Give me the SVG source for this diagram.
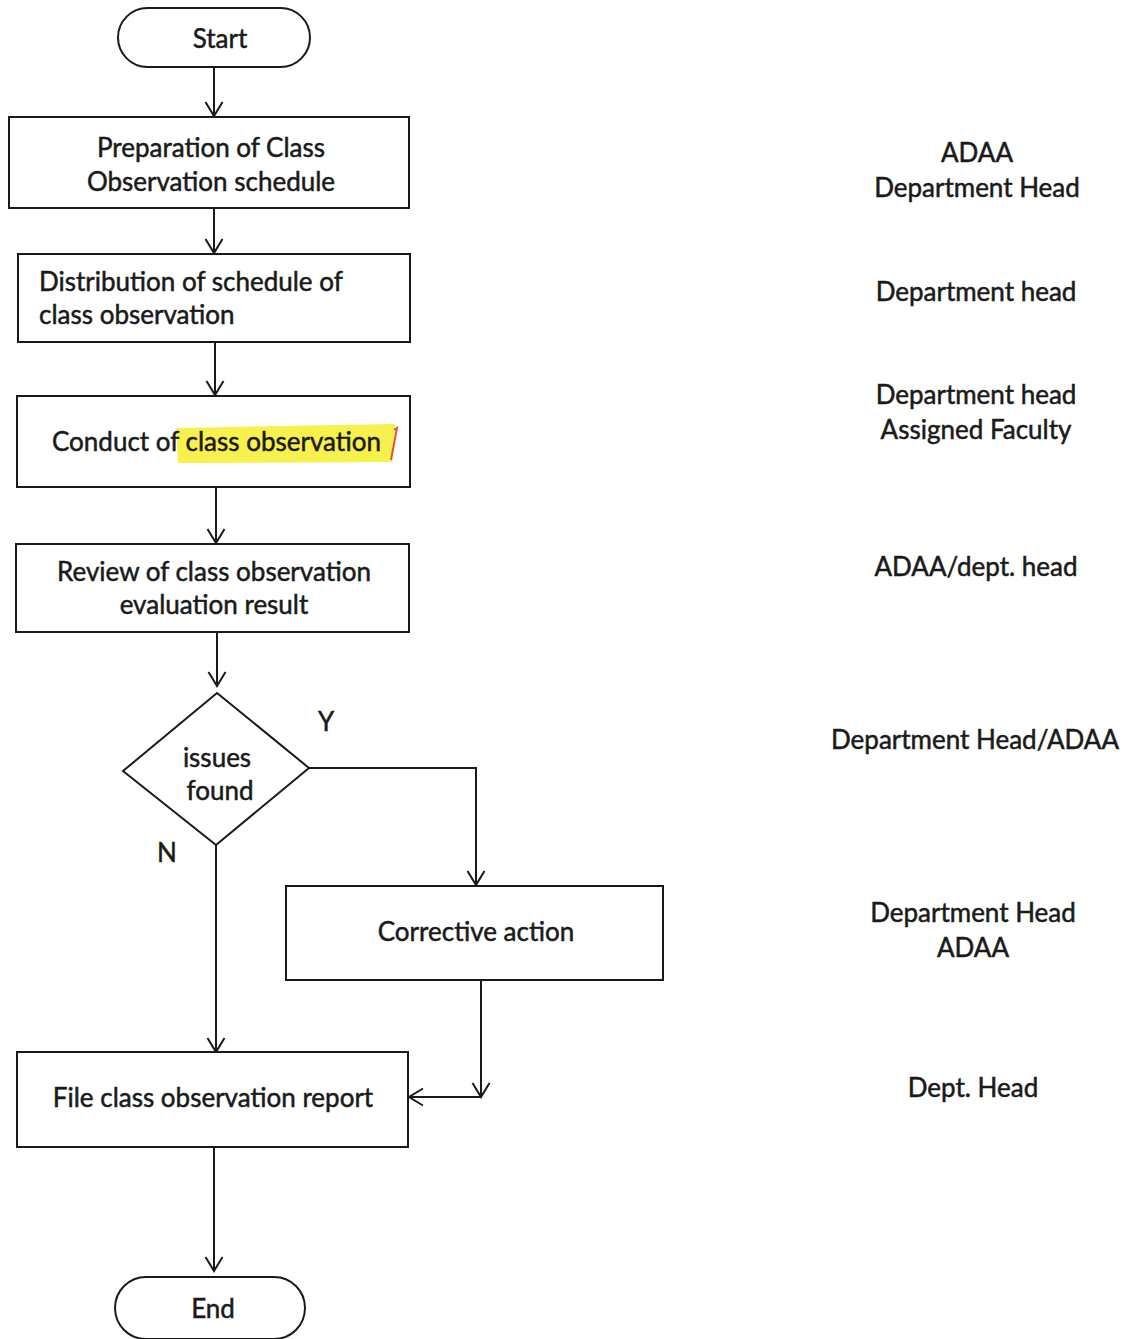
<svg xmlns="http://www.w3.org/2000/svg" width="1133" height="1339" viewBox="0 0 1133 1339">
<defs>
<marker id="arr" viewBox="0 0 20 20" refX="18" refY="10" markerWidth="20" markerHeight="20" markerUnits="userSpaceOnUse" orient="auto-start-reverse">
<path d="M4,1.5 L18,10 L4,18.5" fill="none" stroke="#1a1a1a" stroke-width="2"/>
</marker>
<style>
.box{fill:#fff;stroke:#1a1a1a;stroke-width:2}
.t{font-family:Lato,"Open Sans","Liberation Sans",sans-serif;font-size:26px;fill:#1a1a1a;stroke:#1a1a1a;stroke-width:0.5}
.c{text-anchor:middle}
.ln{fill:none;stroke:#1a1a1a;stroke-width:2}
</style>
</defs>
<rect width="1133" height="1339" fill="#fff"/>
<g id="connectors">
<path class="ln" d="M214,67 V116" marker-end="url(#arr)"/>
<path class="ln" d="M214,208 V253" marker-end="url(#arr)"/>
<path class="ln" d="M215,342 V395" marker-end="url(#arr)"/>
<path class="ln" d="M216,487 V543" marker-end="url(#arr)"/>
<path class="ln" d="M217,632 V686" marker-end="url(#arr)"/>
<path class="ln" d="M309,768 H476 V885" marker-end="url(#arr)"/>
<path class="ln" d="M216,845 V1052" marker-end="url(#arr)"/>
<path class="ln" d="M481,980 V1097" marker-end="url(#arr)"/>
<path class="ln" d="M481,1097 H409" marker-end="url(#arr)"/>
<path class="ln" d="M214,1147 V1271" marker-end="url(#arr)"/>
</g>
<g id="start">
<rect class="box" x="118" y="8" width="192" height="59" rx="29.5"/>
<text class="t c" x="220" y="48">Start</text>
</g>
<g id="prep">
<rect class="box" x="9" y="117" width="400" height="91"/>
<text class="t c" x="211" y="157">Preparation of Class</text>
<text class="t c" x="211" y="191">Observation schedule</text>
</g>
<g id="dist">
<rect class="box" x="18" y="254" width="392" height="88"/>
<text class="t" x="39" y="291">Distribution of schedule of</text>
<text class="t" x="39" y="324">class observation</text>
</g>
<g id="conduct">
<rect class="box" x="17" y="396" width="393" height="91"/>
<path d="M176,428 L395,424 L392,462 L178,463 Z" fill="#f6f03a" opacity="0.9"/>
<path d="M394,430 L397,428 L391,460" fill="none" stroke="#e8522a" stroke-width="2"/>
<text class="t" x="52" y="451">Conduct of class observation</text>
</g>
<g id="review">
<rect class="box" x="16" y="544" width="393" height="88"/>
<text class="t c" x="214" y="581">Review of class observation</text>
<text class="t c" x="214" y="614">evaluation result</text>
</g>
<g id="decision">
<polygon class="box" points="217,693 309,768 216,845 123,771"/>
<text class="t c" x="217" y="767">issues</text>
<text class="t c" x="220" y="800">found</text>
<text class="t c" x="326" y="731">Y</text>
<text class="t c" x="167" y="862">N</text>
</g>
<g id="corrective">
<rect class="box" x="286" y="886" width="377" height="94"/>
<text class="t c" x="476" y="941">Corrective action</text>
</g>
<g id="file">
<rect class="box" x="17" y="1052" width="391" height="95"/>
<text class="t c" x="213" y="1107">File class observation report</text>
</g>
<g id="end">
<rect class="box" x="115" y="1277" width="190" height="62" rx="31"/>
<text class="t c" x="213" y="1318">End</text>
</g>
<g id="roles">
<text class="t c" x="977" y="162">ADAA</text>
<text class="t c" x="977" y="197">Department Head</text>
<text class="t c" x="976" y="301">Department head</text>
<text class="t c" x="976" y="404">Department head</text>
<text class="t c" x="976" y="439">Assigned Faculty</text>
<text class="t c" x="976" y="576">ADAA/dept. head</text>
<text class="t c" x="975" y="749">Department Head/ADAA</text>
<text class="t c" x="973" y="922">Department Head</text>
<text class="t c" x="973" y="957">ADAA</text>
<text class="t c" x="973" y="1097">Dept. Head</text>
</g>
</svg>
